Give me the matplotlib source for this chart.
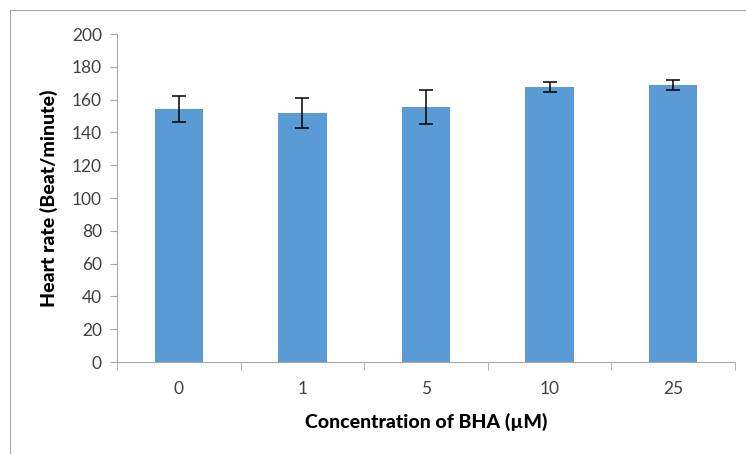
import numpy as np
import matplotlib.pyplot as plt
from matplotlib.patches import Rectangle

plt.rcParams['font.family'] = ['Lato', 'DejaVu Sans']

concentrations = ['0', '1', '5', '10', '25']
heart_rate = [154.4, 151.8, 155.5, 167.5, 168.7]
errors = [8.0, 9.0, 10.2, 3.0, 3.0]

fig = plt.figure(figsize=(7.46, 4.54), dpi=100)
# outer chart-area border like excel
fig.patches.append(Rectangle((10 / 746, -0.1), 1.2, 1 - 10 / 454 + 0.1,
                             transform=fig.transFigure, fill=False,
                             edgecolor='#a6a6a6', linewidth=0.8))

ax = fig.add_axes([0.157, 0.2026, 0.828, 0.7224])
x = np.arange(len(concentrations))
ax.bar(x, heart_rate, width=0.39, color='#5b9bd5', zorder=2)
ax.errorbar(x, heart_rate, yerr=errors, fmt='none', ecolor='black',
            elinewidth=1.1, capsize=5, capthick=1.1, zorder=3)

ax.set_xlim(-0.5, len(concentrations) - 0.5)
ax.set_ylim(0, 200)
ax.set_yticks(np.arange(0, 201, 20))
ax.set_xticks(x)
ax.set_xticklabels(concentrations)
ax.set_xticks(np.arange(-0.5, len(concentrations)), minor=True)
ax.tick_params(axis='x', which='major', length=0, pad=14, labelsize=12.5, labelcolor='#404040')
ax.tick_params(axis='x', which='minor', length=6, color='#a6a6a6', direction='out')
ax.tick_params(axis='y', length=5, color='#a6a6a6', labelsize=12.5, labelcolor='#404040', pad=6)

for s in ['top', 'right']:
    ax.spines[s].set_visible(False)
for s in ['left', 'bottom']:
    ax.spines[s].set_color('#a6a6a6')

ax.set_ylabel('Heart rate (Beat/minute)', fontsize=14, fontweight='black', labelpad=10)
ax.set_xlabel('Concentration of BHA (\u00b5M)', fontsize=14, fontweight='black', labelpad=11)

fig.savefig('out.png', dpi=100)
